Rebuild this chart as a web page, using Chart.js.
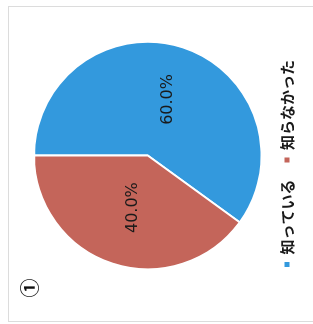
<!DOCTYPE html>
<html>
<head>
<meta charset="utf-8">
<script src="https://cdn.jsdelivr.net/npm/chart.js@4/dist/chart.umd.min.js"></script>
<style>
  html, body { margin: 0; padding: 0; background: #fff; width: 313px; height: 324px; overflow: hidden; }
  #frame { position: absolute; left: 8px; top: 6px; width: 320px; height: 316px; border: 1px solid #dcdcdc; border-right: none; box-sizing: border-box; }
  #rot { position: absolute; left: 0; top: 0; width: 324px; height: 313px; transform-origin: 0 0; transform: translateY(324px) rotate(-90deg); }
</style>
</head>
<body>
<div id="frame"></div>
<div id="rot"><canvas id="c" width="324" height="313"></canvas></div>
<script>
const categories = ['知っている', '知らなかった'];
const values = [60, 40];
const colors = ['#3399dd', '#c4655a'];
const panelLabel = '①';

const sliceLabels = {
  id: 'sliceLabels',
  afterDatasetsDraw(chart) {
    const ctx = chart.ctx;
    const meta = chart.getDatasetMeta(0);
    const data = chart.data.datasets[0].data;
    const total = data.reduce((a, b) => a + b, 0);
    ctx.save();
    ctx.font = '16px "DejaVu Sans"';
    ctx.fillStyle = '#1a1a1a';
    ctx.textAlign = 'center';
    ctx.textBaseline = 'middle';
    meta.data.forEach((arc, i) => {
      const p = arc.tooltipPosition();
      ctx.fillText((data[i] / total * 100).toFixed(1) + '%', p.x + 2, p.y + 3);
    });
    ctx.restore();
  }
};

const panelMark = {
  id: 'panelMark',
  afterDraw(chart) {
    const ctx = chart.ctx;
    ctx.save();
    ctx.font = 'bold 19px "Noto Sans CJK JP"';
    ctx.fillStyle = '#111';
    ctx.textAlign = 'center';
    ctx.textBaseline = 'middle';
    ctx.fillText(panelLabel, 36, 30);
    ctx.restore();
  }
};

const baseGen = (Chart.controllers.doughnut.overrides && Chart.controllers.doughnut.overrides.plugins.legend.labels.generateLabels)
  || Chart.overrides.doughnut.plugins.legend.labels.generateLabels;

new Chart(document.getElementById('c'), {
  type: 'pie',
  data: {
    labels: categories,
    datasets: [{
      data: values,
      backgroundColor: colors,
      borderColor: '#ffffff',
      borderWidth: 2
    }]
  },
  options: {
    responsive: false,
    animation: false,
    layout: { padding: { top: 33, bottom: 8.5, left: 40, right: 27 } },
    plugins: {
      tooltip: { enabled: false },
      legend: {
        position: 'bottom',
        align: 'start',
        labels: {
          boxWidth: 5,
          boxHeight: 5,
          padding: 17,
          color: '#1a1a1a',
          font: { family: '"Noto Sans CJK JP"', size: 15, weight: 'bold' },
          generateLabels: (chart) => baseGen(chart).map(l => Object.assign({}, l, { lineWidth: 0 }))
        }
      }
    }
  },
  plugins: [sliceLabels, panelMark]
});
</script>
</body>
</html>
